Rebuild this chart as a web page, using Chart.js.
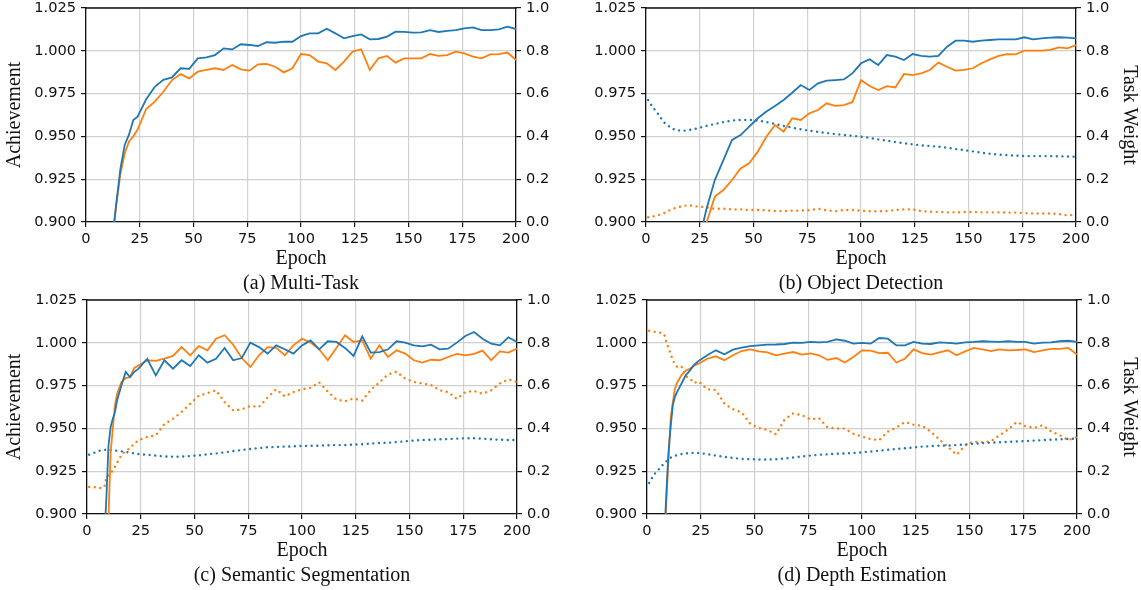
<!DOCTYPE html>
<html>
<head>
<meta charset="utf-8">
<script src="https://cdn.jsdelivr.net/npm/chart.js@4.4.1/dist/chart.umd.min.js"></script>
<style>
	html, body { margin: 0; padding: 0; background: #fff; width: 1141px; height: 590px; overflow: hidden; position: relative; }
	canvas { position: absolute; }
</style>
</head>
<body>
<canvas id="a" width="570" height="302" style="left:0;top:-5px"></canvas>
<canvas id="b" width="571" height="302" style="left:570px;top:-5px"></canvas>
<canvas id="c" width="570" height="302" style="left:0;top:287px"></canvas>
<canvas id="d" width="571" height="302" style="left:570px;top:287px"></canvas>
<script>
/* global Chart */

const EPOCHS = [1, 3, 6, 8, 9, 10, 11, 12, 13, 14, 16, 18, 20, 22, 24,
	28, 32, 36, 40, 44, 48, 52, 56, 60, 64,
	68, 72, 76, 80, 84, 88, 92, 96, 100, 104,
	108, 112, 116, 120, 124, 128, 132, 136, 140, 144,
	148, 152, 156, 160, 164, 168, 172, 176, 180, 184,
	188, 192, 196, 200];

const X_TICKS = [0, 25, 50, 75, 100, 125, 150, 175, 200];
const ACH_TICKS = [0.9, 0.925, 0.95, 0.975, 1.0, 1.025];
const WEIGHT_TICKS = [0, 0.2, 0.4, 0.6, 0.8, 1.0];
const CAPTIONS = ["(a) Multi-Task", "(b) Object Detection", "(c) Semantic Segmentation", "(d) Depth Estimation"];

// (a) multi-task achievement
const mtBlue = [0.70, 0.74, 0.80, 0.83, 0.845, 0.86, 0.872, 0.884, 0.898, 0.910, 0.931, 0.945, 0.951, 0.9596, 0.9615,
	0.9717, 0.979, 0.983, 0.9845, 0.9898, 0.9895, 0.9956, 0.9962, 0.9975, 1.0014,
	1.0008, 1.0038, 1.0034, 1.0028, 1.005, 1.0047, 1.0053, 1.0053, 1.0086, 1.0102,
	1.0102, 1.0129, 1.0102, 1.0073, 1.0086, 1.0096, 1.0067, 1.0069, 1.0083, 1.0112,
	1.011, 1.0106, 1.0108, 1.0121, 1.011, 1.0116, 1.0121, 1.0131, 1.0137, 1.0121,
	1.0121, 1.0125, 1.0141, 1.0127];
const mtOrange = [0.69, 0.73, 0.79, 0.825, 0.84, 0.855, 0.868, 0.882, 0.899, 0.909, 0.928, 0.940, 0.947, 0.950, 0.954,
	0.966, 0.9703, 0.9761, 0.9829, 0.9864, 0.9839, 0.9878, 0.9888, 0.9898, 0.9888,
	0.9917, 0.9892, 0.9884, 0.9921, 0.9923, 0.9907, 0.9874, 0.9898, 0.9981, 0.9975,
	0.9937, 0.9927, 0.9888, 0.9937, 0.9995, 1.0009, 0.9888, 0.9956, 0.997, 0.9931,
	0.9956, 0.9956, 0.9956, 0.9981, 0.997, 0.9975, 0.9995, 0.9985, 0.9966, 0.9956,
	0.9979, 0.9981, 0.999, 0.9946];

// (b) object detection
const odBlue = [0.70, 0.72, 0.75, 0.77, 0.78, 0.79, 0.80, 0.81, 0.82, 0.83, 0.845, 0.855, 0.865, 0.875, 0.885,
	0.907, 0.9245, 0.9362, 0.9479, 0.9508, 0.9557, 0.9606, 0.9645, 0.9678, 0.9713,
	0.9755, 0.98, 0.9771, 0.981, 0.9826, 0.9829, 0.9833, 0.9868, 0.9927, 0.995,
	0.9917, 0.9975, 0.9966, 0.9946, 0.9981, 0.997, 0.9966, 0.997, 1.0024, 1.0059,
	1.0059, 1.0053, 1.0059, 1.0063, 1.0067, 1.0067, 1.0067, 1.0079, 1.0067, 1.0073,
	1.0077, 1.0079, 1.0077, 1.0073];
const odOrange = [0.68, 0.70, 0.73, 0.75, 0.76, 0.77, 0.78, 0.79, 0.80, 0.81, 0.825, 0.84, 0.85, 0.865, 0.88,
	0.899, 0.9148, 0.9187, 0.9245, 0.9313, 0.9343, 0.9411, 0.9498, 0.9567, 0.9528,
	0.9606, 0.9596, 0.9635, 0.9654, 0.9693, 0.9678, 0.9683, 0.970, 0.9829, 0.9794,
	0.9771, 0.9794, 0.9786, 0.9864, 0.9858, 0.9868, 0.9888, 0.9931, 0.9907, 0.9884,
	0.9888, 0.9898, 0.9927, 0.995, 0.997, 0.9981, 0.9979, 1.0001, 1.0001, 1.0001,
	1.0005, 1.002, 1.0014, 1.0034];
const odWeightBlue = [0.570, 0.539, 0.500, 0.469, 0.461, 0.453, 0.445, 0.438, 0.433, 0.430, 0.427, 0.427, 0.430, 0.433, 0.438,
	0.449, 0.458, 0.467, 0.474, 0.477, 0.477, 0.474, 0.467, 0.458, 0.449,
	0.441, 0.433, 0.427, 0.421, 0.416, 0.411, 0.407, 0.403, 0.399, 0.393,
	0.386, 0.380, 0.374, 0.368, 0.363, 0.358, 0.355, 0.352, 0.347, 0.341,
	0.336, 0.330, 0.324, 0.319, 0.315, 0.312, 0.310, 0.308, 0.308, 0.308,
	0.308, 0.307, 0.306, 0.305];
const odWeightOrange = [0.022, 0.025, 0.033, 0.040, 0.044, 0.050, 0.055, 0.059, 0.063, 0.067, 0.072, 0.076, 0.078, 0.076, 0.072,
	0.069, 0.062, 0.062, 0.059, 0.059, 0.056, 0.056, 0.055, 0.051, 0.051,
	0.053, 0.053, 0.055, 0.062, 0.055, 0.050, 0.056, 0.056, 0.053, 0.050,
	0.050, 0.051, 0.056, 0.059, 0.059, 0.051, 0.048, 0.047, 0.045, 0.045,
	0.047, 0.047, 0.045, 0.045, 0.045, 0.044, 0.044, 0.042, 0.040, 0.040,
	0.040, 0.037, 0.031, 0.034];

// (c) semantic segmentation
const ssBlue = [0.62, 0.70, 0.80, 0.885, 0.909, 0.940, 0.9508, 0.9557, 0.9596, 0.9664, 0.975, 0.983, 0.980, 0.983, 0.9849,
	0.9907, 0.981, 0.9898, 0.9849, 0.9898, 0.9864, 0.9927, 0.9884, 0.9907, 0.997,
	0.9898, 0.9911, 1.0001, 0.9975, 0.9937, 0.9985, 0.9962, 0.9937, 0.9985, 1.0014,
	0.9962, 1.0009, 1.0005, 0.997, 0.9923, 1.0038, 0.9943, 0.9946, 0.9962, 1.0009,
	1.0001, 0.9985, 0.9979, 0.9989, 0.9962, 0.9966, 1.0001, 1.004, 1.0063, 1.0024,
	0.9995, 0.9985, 1.0032, 1.0005];
const ssOrange = [0.60, 0.68, 0.78, 0.85, 0.875, 0.898, 0.9362, 0.9498, 0.9635, 0.9703, 0.9771, 0.9794, 0.980, 0.9853, 0.9868,
	0.9898, 0.9894, 0.9907, 0.9923, 0.9975, 0.9927, 0.9981, 0.9956, 1.0024, 1.0044,
	0.9989, 0.9911, 0.9859, 0.9927, 0.9975, 0.997, 0.9927, 0.9985, 1.0024, 1.0001,
	0.9962, 0.9898, 0.997, 1.0044, 1.0005, 1.0014, 0.9907, 0.9985, 0.9917, 0.9956,
	0.9937, 0.9898, 0.9884, 0.9901, 0.9898, 0.9917, 0.9935, 0.9927, 0.9935, 0.9954,
	0.9898, 0.995, 0.9943, 0.9966];
const ssWeightBlue = [0.277, 0.285, 0.296, 0.299, 0.301, 0.301, 0.299, 0.298, 0.296, 0.296, 0.293, 0.290, 0.287, 0.283, 0.280,
	0.277, 0.273, 0.269, 0.268, 0.268, 0.271, 0.274, 0.279, 0.283, 0.288,
	0.294, 0.299, 0.304, 0.308, 0.312, 0.313, 0.315, 0.316, 0.318, 0.319,
	0.319, 0.321, 0.322, 0.322, 0.324, 0.326, 0.329, 0.332, 0.333, 0.336,
	0.340, 0.343, 0.346, 0.347, 0.349, 0.350, 0.352, 0.354, 0.354, 0.352,
	0.349, 0.347, 0.346, 0.346];
const ssWeightOrange = [0.126, 0.126, 0.121, 0.125, 0.173, 0.180, 0.188, 0.205, 0.220, 0.240, 0.275, 0.295, 0.308, 0.329, 0.345,
	0.360, 0.368, 0.420, 0.445, 0.477, 0.515, 0.553, 0.565, 0.578, 0.523,
	0.484, 0.489, 0.505, 0.500, 0.545, 0.583, 0.550, 0.570, 0.583, 0.590,
	0.615, 0.572, 0.535, 0.527, 0.540, 0.530, 0.580, 0.615, 0.652, 0.665,
	0.633, 0.617, 0.610, 0.603, 0.578, 0.570, 0.538, 0.570, 0.575, 0.562,
	0.578, 0.610, 0.629, 0.617];

// (d) depth estimation
const deBlue = [0.70, 0.75, 0.82, 0.885, 0.912, 0.9362, 0.9508, 0.9635, 0.9684, 0.9713, 0.9761, 0.981, 0.9839, 0.9872, 0.9894,
	0.9927, 0.9956, 0.9933, 0.996, 0.9972, 0.9981, 0.9985, 0.9989, 0.999, 0.9993,
	1.0001, 0.9999, 1.0005, 1.0003, 1.0005, 1.002, 1.0012, 0.9995, 0.9999, 0.9995,
	1.0028, 1.0024, 0.9985, 0.9985, 1.0005, 0.9995, 0.9993, 1.0003, 0.9999, 0.9995,
	1.0003, 1.0005, 1.0009, 1.0007, 1.0005, 1.0009, 1.0005, 1.0005, 0.9995, 1.0001,
	1.0003, 1.0009, 1.0012, 1.0005];
const deOrange = [0.70, 0.74, 0.80, 0.87, 0.907, 0.9323, 0.9557, 0.9654, 0.9732, 0.9767, 0.981, 0.9837, 0.9849, 0.9868, 0.9878,
	0.9907, 0.9921, 0.9898, 0.9927, 0.9952, 0.9962, 0.995, 0.9944, 0.9927, 0.9937,
	0.9946, 0.9931, 0.9938, 0.9927, 0.99, 0.9911, 0.9885, 0.9917, 0.9956, 0.9954,
	0.994, 0.9942, 0.9885, 0.9907, 0.9962, 0.994, 0.9931, 0.9944, 0.9956, 0.9927,
	0.995, 0.997, 0.9962, 0.9952, 0.9962, 0.9956, 0.9958, 0.9962, 0.9946, 0.9956,
	0.9964, 0.9964, 0.997, 0.9931];
const deWeightBlue = [0.145, 0.181, 0.215, 0.237, 0.246, 0.255, 0.263, 0.268, 0.272, 0.275, 0.280, 0.283, 0.285, 0.286, 0.285,
	0.280, 0.273, 0.267, 0.262, 0.258, 0.256, 0.255, 0.255, 0.256, 0.259,
	0.264, 0.269, 0.273, 0.277, 0.279, 0.281, 0.283, 0.285, 0.288, 0.292,
	0.296, 0.300, 0.304, 0.307, 0.311, 0.315, 0.317, 0.319, 0.320, 0.322,
	0.325, 0.328, 0.331, 0.333, 0.335, 0.337, 0.339, 0.341, 0.343, 0.345,
	0.347, 0.349, 0.351, 0.352];
const deWeightOrange = [0.856, 0.852, 0.848, 0.840, 0.804, 0.775, 0.750, 0.718, 0.700, 0.687, 0.690, 0.645, 0.632, 0.612, 0.620,
	0.582, 0.580, 0.515, 0.490, 0.475, 0.422, 0.402, 0.393, 0.372, 0.442,
	0.470, 0.462, 0.442, 0.448, 0.405, 0.400, 0.399, 0.375, 0.362, 0.350,
	0.345, 0.385, 0.405, 0.430, 0.417, 0.412, 0.385, 0.348, 0.313, 0.277,
	0.321, 0.338, 0.335, 0.340, 0.368, 0.395, 0.430, 0.410, 0.402, 0.415,
	0.386, 0.368, 0.345, 0.360];

const BLUE = "#1f77b4";
const ORANGE = "#ff7f0e";
const INK = "#111";
const GRID = "#d0d0d0";
const TICK_FONT = { family: "DejaVu Sans", size: 14.6, lineHeight: 1 };
const LABEL_FONT = { family: "Liberation Serif", size: 20, weight: "normal", lineHeight: 1.2 };

const pts = (ys) => ys.map((y, i) => ({ x: EPOCHS[i], y }));
const fixTicks = (list) => (s) => { s.ticks = list.map((value) => ({ value })); };

// matplotlib draws a closed box; the top spine has no scale of its own
const topSpine = {
	id: "topSpine",
	afterDraw(chart) {
		const { ctx, chartArea: a } = chart;
		ctx.save();
		ctx.strokeStyle = INK;
		ctx.lineWidth = 1.3;
		ctx.beginPath();
		ctx.moveTo(a.left - 0.65, a.top);
		ctx.lineTo(a.right + 0.65, a.top);
		ctx.stroke();
		ctx.restore();
	},
};

function panel(id, caption, series, leftW, rightW, leftTitle, rightTitle) {
	const tickGrid = (onArea) => ({
		color: GRID, lineWidth: 1.2, drawOnChartArea: onArea,
		tickColor: INK, tickLength: 5, tickWidth: 1.2,
	});
	const border = { color: INK, width: 1.3 };

	new Chart(document.getElementById(id), {
		type: "line",
		data: {
			datasets: series.map(([ys, color, isWeight]) => ({
				data: pts(ys),
				borderColor: color,
				borderWidth: isWeight ? 2.4 : 1.8,
				borderDash: isWeight ? [0.01, 5.6] : [],
				borderCapStyle: isWeight ? "round" : "butt",
				yAxisID: isWeight ? "y1" : "y",
				pointRadius: 0,
				tension: 0,
				clip: 0,
			})),
		},
		options: {
			responsive: false,
			animation: false,
			events: [],
			layout: { padding: { top: 13, bottom: 1, left: 0, right: 0 } },
			plugins: {
				legend: { display: false },
				tooltip: { enabled: false },
				title: {
					display: true, text: caption, position: "bottom", fullSize: false,
					font: LABEL_FONT, color: INK, padding: { top: 1, bottom: 0 },
				},
			},
			scales: {
				x: {
					type: "linear", min: 0, max: 200,
					afterBuildTicks: fixTicks(X_TICKS),
					afterFit: (s) => { s.height = 49; },
					ticks: { font: TICK_FONT, color: INK, padding: 5, maxRotation: 0, autoSkip: false, callback: (v) => String(v) },
					grid: tickGrid(true),
					border,
					title: { display: true, text: "Epoch", font: LABEL_FONT, color: INK, padding: 0 },
				},
				y: {
					type: "linear", position: "left", min: 0.9, max: 1.025,
					afterBuildTicks: fixTicks(ACH_TICKS),
					afterFit: (s) => { s.width = leftW; },
					ticks: { font: TICK_FONT, color: INK, padding: 5, callback: (v) => v.toFixed(3) },
					grid: tickGrid(true),
					border,
					title: { display: leftTitle, text: "Achievement", font: LABEL_FONT, color: INK, padding: { top: 3, bottom: 0 } },
				},
				y1: {
					type: "linear", position: "right", min: 0, max: 1,
					afterBuildTicks: fixTicks(WEIGHT_TICKS),
					afterFit: (s) => { s.width = rightW; },
					ticks: { font: TICK_FONT, color: INK, padding: 5, callback: (v) => v.toFixed(1) },
					grid: tickGrid(false),
					border,
					title: { display: rightTitle, text: "Task Weight", font: LABEL_FONT, color: INK, padding: { top: 0, bottom: 0 } },
				},
			},
		},
		plugins: [topSpine],
	});
}

panel("a", CAPTIONS[0], [[mtBlue, BLUE], [mtOrange, ORANGE]], 86, 54, true, false);
panel("b", CAPTIONS[1], [[odBlue, BLUE], [odOrange, ORANGE], [odWeightBlue, BLUE, true], [odWeightOrange, ORANGE, true]], 76, 65, false, true);
panel("c", CAPTIONS[2], [[ssBlue, BLUE], [ssOrange, ORANGE], [ssWeightBlue, BLUE, true], [ssWeightOrange, ORANGE, true]], 87, 53, true, false);
panel("d", CAPTIONS[3], [[deBlue, BLUE], [deOrange, ORANGE], [deWeightBlue, BLUE, true], [deWeightOrange, ORANGE, true]], 77, 64, false, true);
</script>
</body>
</html>
